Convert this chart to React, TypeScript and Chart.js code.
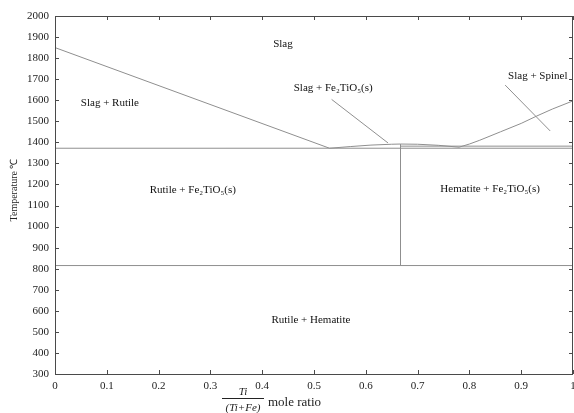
import React, { useEffect, useRef } from "react";
import { Chart, registerables } from "chart.js";
Chart.register(...registerables);

const xTicks = [0, 0.1, 0.2, 0.3, 0.4, 0.5, 0.6, 0.7, 0.8, 0.9, 1];
const yTicks = [300, 400, 500, 600, 700, 800, 900, 1000, 1100, 1200, 1300, 1400, 1500, 1600, 1700, 1800, 1900, 2000];

const rutileLiquidusX = [0, 0.53];
const rutileLiquidusY = [1850, 1372];
const domeX = [0.53, 0.57, 0.61, 0.65, 0.667, 0.7, 0.74, 0.78];
const domeY = [1372, 1380, 1387, 1391, 1392, 1391, 1386, 1377];
const spinelX = [0.78, 0.8, 0.82, 0.86, 0.9, 0.93, 0.96, 1.0];
const spinelY = [1377, 1392, 1410, 1450, 1490, 1525, 1558, 1597];
const eutecticX = [0, 1];
const eutecticY = [1372, 1372];
const upperIsoX = [0.667, 1];
const upperIsoY = [1382, 1382];
const lowIsoX = [0, 1];
const lowIsoY = [815, 815];
const verticalX = [0.667, 0.667];
const verticalY = [815, 1392];
const pointerFeX = [0.534, 0.643];
const pointerFeY = [1604, 1397];
const pointerSpX = [0.869, 0.956];
const pointerSpY = [1672, 1454];

const regionNames = [
  "Slag",
  "Slag + Rutile",
  "Slag + Fe₂TiO₅(s)",
  "Slag + Spinel",
  "Rutile + Fe₂TiO₅(s)",
  "Hematite + Fe₂TiO₅(s)",
  "Rutile + Hematite",
];
const regionX = [0.44, 0.106, 0.537, 0.932, 0.266, 0.84, 0.494];
const regionY = [1867, 1587, 1658, 1715, 1174, 1178, 556];

const yTitle = "Temperature ℃";
const xTitleNum = "Ti";
const xTitleDen = "(Ti+Fe)";
const xTitleRest = "mole ratio";

const LINE = "#8f8f8f";
const AXIS = "#4a4a4a";
const SERIF = "'Liberation Serif', 'Times New Roman', serif";

function pts(xs: number[], ys: number[]) {
  return xs.map((x, i) => ({ x, y: ys[i] }));
}

function ds(xs: number[], ys: number[]) {
  return {
    data: pts(xs, ys),
    showLine: true,
    borderColor: LINE,
    borderWidth: 1,
    pointRadius: 0,
    tension: 0,
    fill: false,
  };
}

const framePlugin = {
  id: "frame",
  afterDatasetsDraw(chart: any) {
    const ctx = chart.ctx as CanvasRenderingContext2D;
    const { left, right, top, bottom } = chart.chartArea;
    const xs = chart.scales.x;
    const ys = chart.scales.y;
    ctx.save();
    // region labels
    ctx.fillStyle = "#111";
    ctx.font = `11px ${SERIF}`;
    ctx.textAlign = "center";
    ctx.textBaseline = "middle";
    regionNames.forEach((t, i) => {
      ctx.fillText(t, xs.getPixelForValue(regionX[i]), ys.getPixelForValue(regionY[i]));
    });
    // frame
    ctx.strokeStyle = AXIS;
    ctx.lineWidth = 1;
    ctx.strokeRect(Math.round(left) + 0.5, Math.round(top) + 0.5, Math.round(right - left) - 1, Math.round(bottom - top));
    // inward ticks
    const tl = 4;
    ctx.beginPath();
    xTicks.forEach((v) => {
      const px = Math.round(xs.getPixelForValue(v)) + 0.5;
      ctx.moveTo(px, bottom);
      ctx.lineTo(px, bottom - tl);
      ctx.moveTo(px, top);
      ctx.lineTo(px, top + tl);
    });
    yTicks.forEach((v) => {
      const py = Math.round(ys.getPixelForValue(v)) + 0.5;
      ctx.moveTo(left, py);
      ctx.lineTo(left + tl, py);
      ctx.moveTo(right, py);
      ctx.lineTo(right - tl, py);
    });
    ctx.stroke();
    // y title
    ctx.fillStyle = "#222";
    ctx.font = `10px ${SERIF}`;
    ctx.save();
    ctx.translate(14, (top + bottom) / 2 - 5);
    ctx.rotate(-Math.PI / 2);
    ctx.textAlign = "center";
    ctx.textBaseline = "middle";
    ctx.fillText(yTitle, 0, 0);
    ctx.restore();
    // x title
    const fx = 243;
    ctx.textAlign = "center";
    ctx.textBaseline = "alphabetic";
    ctx.font = `italic 11px ${SERIF}`;
    ctx.fillText(xTitleNum, fx, 395);
    ctx.fillText(xTitleDen, fx, 411);
    ctx.beginPath();
    ctx.strokeStyle = "#222";
    ctx.moveTo(222, 398.5);
    ctx.lineTo(264, 398.5);
    ctx.stroke();
    ctx.font = `13px ${SERIF}`;
    ctx.textAlign = "left";
    ctx.fillText(xTitleRest, 268, 406);
    ctx.restore();
  },
};

export default function App() {
  const ref = useRef<HTMLCanvasElement | null>(null);
  useEffect(() => {
    if (!ref.current) return;
    const chart = new Chart(ref.current, {
      type: "scatter",
      data: {
        datasets: [
          ds(rutileLiquidusX, rutileLiquidusY),
          ds(domeX, domeY),
          ds(spinelX, spinelY),
          ds(eutecticX, eutecticY),
          ds(upperIsoX, upperIsoY),
          ds(lowIsoX, lowIsoY),
          ds(verticalX, verticalY),
          ds(pointerFeX, pointerFeY),
          ds(pointerSpX, pointerSpY),
        ] as any,
      },
      options: {
        animation: false,
        responsive: true,
        maintainAspectRatio: false,
        layout: { padding: { top: 16, right: 1, left: 0, bottom: 0 } },
        plugins: { legend: { display: false }, tooltip: { enabled: false } },
        scales: {
          x: {
            type: "linear",
            min: 0,
            max: 1,
            afterBuildTicks: (s: any) => {
              s.ticks = xTicks.map((v) => ({ value: v }));
            },
            afterFit: (s: any) => {
              s.height = 39;
              s.paddingLeft = 0;
              s.paddingRight = 0;
            },
            ticks: {
              padding: 6,
              color: "#222",
              font: { family: SERIF, size: 11 },
              maxRotation: 0,
              autoSkip: false,
              callback: (v: any) => String(Math.round(Number(v) * 10) / 10),
            },
            grid: { display: false, drawTicks: false },
            border: { display: false },
          },
          y: {
            type: "linear",
            min: 300,
            max: 2000,
            afterBuildTicks: (s: any) => {
              s.ticks = yTicks.map((v) => ({ value: v }));
            },
            afterFit: (s: any) => {
              s.width = 55;
              s.paddingTop = 0;
              s.paddingBottom = 0;
            },
            ticks: {
              padding: 6,
              color: "#222",
              font: { family: SERIF, size: 11 },
              autoSkip: false,
              callback: (v: any) => String(v),
            },
            grid: { display: false, drawTicks: false },
            border: { display: false },
          },
        },
      } as any,
      plugins: [framePlugin],
    });
    return () => chart.destroy();
  }, []);
  return (
    <div style={{ position: "absolute", left: 0, top: 0, width: 574, height: 413, background: "#fff" }}>
      <canvas ref={ref} />
    </div>
  );
}
